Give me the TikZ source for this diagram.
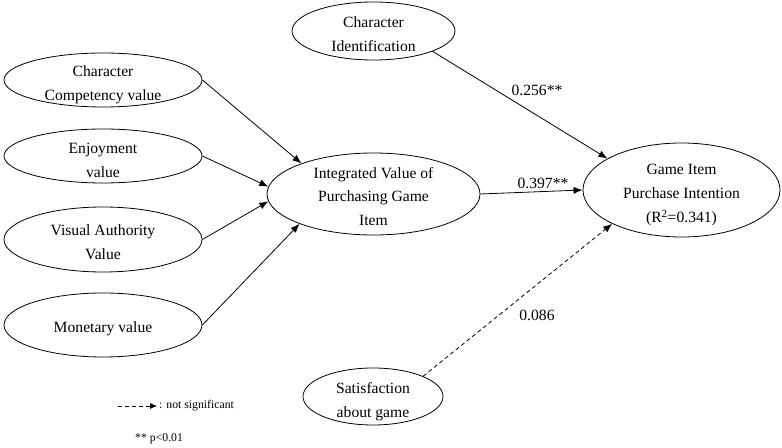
\documentclass[tikz,border=0pt]{standalone}
\usepackage{fontspec}
\setmainfont{Liberation Serif}
\usetikzlibrary{shapes.geometric,arrows.meta}
\newcommand{\mainfs}{\fontsize{15.7}{24}\selectfont}
\newcommand{\smallfs}{\fontsize{11.8}{14}\selectfont}
\tikzset{
  ell/.style={draw, ellipse, line width=0.8bp, inner sep=0pt},
  txt/.style={inner sep=0pt, align=center, font=\mainfs},
  conn/.style={line width=0.8bp, -{Latex[length=9bp,width=7bp]}},
  nsconn/.style={conn, dash pattern=on 4bp off 3bp},
  lbl/.style={font=\mainfs, inner sep=0pt},
  legend/.style={font=\smallfs, inner sep=0pt, anchor=west},
}
\begin{document}
\begin{tikzpicture}[x=1bp,y=-1bp]
\useasboundingbox (0,0) rectangle (782,448);
% left ellipses
\node[ell, minimum width=198bp, minimum height=54bp] (cc) at (103,80) {};
\node[txt] (cct) at ([yshift=-4.5bp]cc.center) {Character\\Competency value};
\node[ell, minimum width=198bp, minimum height=54bp] (en) at (103,156) {};
\node[txt] (ent) at ([yshift=-4bp]en.center) {Enjoyment\\value};
\node[ell, minimum width=198bp, minimum height=65bp] (va) at (103,239.5) {};
\node[txt] (vat) at ([yshift=-3bp]va.center) {Visual Authority\\Value};
\node[ell, minimum width=198bp, minimum height=64bp] (mv) at (103,325) {};
\node[txt] (mvt) at ([yshift=-4bp]mv.center) {Monetary value};
% center
\node[ell, minimum width=213bp, minimum height=82bp] (iv) at (373.5,194) {};
\node[txt] (ivt) at ([yshift=-2.5bp]iv.center) {Integrated Value of\\Purchasing Game\\Item};
% top / bottom
\node[ell, minimum width=163bp, minimum height=58bp] (ci) at (373.5,31) {};
\node[txt] (cit) at ([yshift=-3.5bp]ci.center) {Character\\Identification};
\node[ell, minimum width=140bp, minimum height=57bp] (sg) at (373,396.5) {};
\node[txt] (sgt) at ([yshift=-5.5bp]sg.center) {Satisfaction\\about game};
% right
\node[ell, minimum width=197bp, minimum height=94bp] (gi) at (681.5,190) {};
\node[txt] (git) at ([yshift=-5bp]gi.center) {Game Item\\Purchase Intention\\(R\textsuperscript{2}=0.341)};
% connectors
\draw[conn] (cc.east) -- (iv.157.7);
\draw[conn] (en.east) -- (iv.176);
\draw[conn] (va.east) -- (iv.184);
\draw[conn] (mv.east) -- (iv.202);
\draw[conn] (ci.-19.6) -- (gi.157.2);
\draw[conn] (iv.east) -- (gi.west);
\draw[nsconn] (sg.22.8) -- (gi.206);
% labels
\node[lbl] (l1) at (537,90) {0.256**};
\node[lbl] (l2) at (543,183) {0.397**};
\node[lbl] (l3) at (537,315) {0.086};
% legend
\coordinate (la) at (118,406);
\coordinate (lb) at (157,406);
\draw[nsconn, line width=0.7bp, -{Latex[length=7bp,width=6bp]}] (la) -- (lb);
\node[legend] (lt) at (159,406) {: not significant};
\node[legend] (lp) at (135,439) {** p<0.01};
\end{tikzpicture}
\end{document}
